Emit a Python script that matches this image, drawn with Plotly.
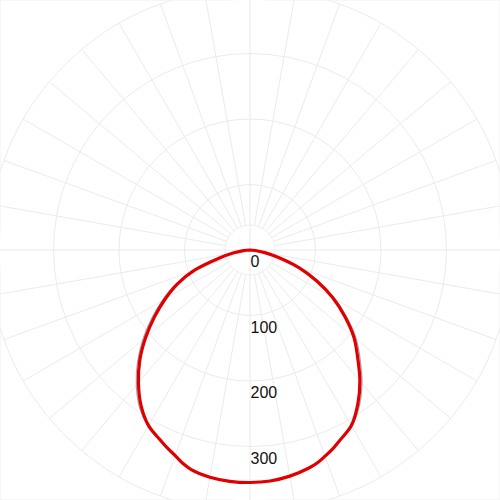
import numpy as np
import plotly.graph_objects as go

# Gamma angles (degrees from nadir) and intensities (cd/klm)
gamma = [0, 5, 10, 15, 17.5, 20, 22.5, 25, 30, 35, 40, 45, 50, 55, 60, 65, 70, 75, 80, 85, 90]

# red curve (thick): right half and left half
red_right = [355, 354, 350.6, 345, 341, 335, 329, 322, 309.5, 287, 261, 232.5, 207, 176.5, 146, 113, 80.7, 47, 23, 8, 0]
red_left = [355, 354.5, 352.3, 347, 341.5, 334, 328, 321.5, 309.7, 290, 265, 238, 208, 178, 149.6, 122, 90, 50, 25, 10, 0]

# grey curve (thin): right half and left half
grey_right = [355, 354, 350.6, 345, 340.5, 335, 328.5, 322, 311, 291, 266, 238, 212, 181.5, 150, 116, 82, 48, 23, 8, 0]
grey_left = [355, 354.5, 352.3, 347, 341, 335, 328.5, 322, 311, 294, 270, 243, 214, 184, 155, 127, 94, 52, 25, 10, 0]

radial_ticks = [0, 100, 200, 300]
radial_text = ["0", "100", "200", "300"]

R_MAX = 381.7          # value at the edge of the plotting circle
OUTER_RING = 400       # ring drawn partly outside the plotting circle
INNER_RING = 38        # small inner ring
GRID = "#ebebeb"

W = 500.0
px_per_unit = 250.0 / R_MAX
LABEL_SHIFT = 12.0 / px_per_unit   # labels sit a little below their ring


def full_curve(right, left):
    th = list(gamma) + [360 - g for g in reversed(gamma)]
    rr = list(right) + list(reversed(left))
    return th, rr


fig = go.Figure()

# inner white disc with its ring (grid layer)
circ_t = np.linspace(0, 360, 181)
fig.add_trace(go.Scatterpolar(
    r=[INNER_RING] * len(circ_t), theta=circ_t, mode="lines",
    fill="toself", fillcolor="white", line=dict(color=GRID, width=1),
    hoverinfo="skip", showlegend=False, subplot="polar"))
# cross through the centre
fig.add_trace(go.Scatterpolar(
    r=[INNER_RING, INNER_RING, None, INNER_RING, INNER_RING],
    theta=[0, 180, None, 90, 270], mode="lines",
    line=dict(color=GRID, width=1), hoverinfo="skip", showlegend=False, subplot="polar"))

# data curves (upper layer, carries the radial labels)
th, rr = full_curve(grey_right, grey_left)
fig.add_trace(go.Scatterpolar(r=rr, theta=th, mode="lines",
                              line=dict(color="#a8a0b0", width=1.2, shape="spline"),
                              showlegend=False, subplot="polar2"))
th, rr = full_curve(red_right, red_left)
fig.add_trace(go.Scatterpolar(r=rr, theta=th, mode="lines",
                              line=dict(color="#e00000", width=3.2, shape="spline"),
                              showlegend=False, subplot="polar2"))

# outer ring and the short ends of the spokes beyond the plotting circle
ring_px = OUTER_RING * px_per_unit
shapes = [dict(type="circle", xref="paper", yref="paper",
               x0=0.5 - ring_px / W, x1=0.5 + ring_px / W,
               y0=0.5 - ring_px / W, y1=0.5 + ring_px / W,
               line=dict(color=GRID, width=1), layer="below")]
for a in range(0, 360, 10):
    rad = np.deg2rad(a)
    shapes.append(dict(type="line", xref="paper", yref="paper",
                       x0=0.5 + 250 * np.cos(rad) / W, y0=0.5 + 250 * np.sin(rad) / W,
                       x1=0.5 + ring_px * np.cos(rad) / W, y1=0.5 + ring_px * np.sin(rad) / W,
                       line=dict(color=GRID, width=1), layer="below"))
shapes.append(dict(type="rect", xref="paper", yref="paper", x0=0, x1=1, y0=0, y1=1,
                   line=dict(color="#f0f0f0", width=1), layer="below"))

angular_common = dict(rotation=-90, direction="counterclockwise",
                      tickmode="linear", tick0=0, dtick=10,
                      showticklabels=False, ticks="", showline=False)

fig.update_layout(
    width=500, height=500,
    margin=dict(l=0, r=0, t=0, b=0),
    paper_bgcolor="white",
    showlegend=False,
    shapes=shapes,
    polar=dict(
        domain=dict(x=[0, 1], y=[0, 1]),
        bgcolor="white",
        angularaxis=dict(**angular_common, gridcolor=GRID, gridwidth=1),
        radialaxis=dict(range=[0, R_MAX], angle=270,
                        tickmode="array", tickvals=radial_ticks + [OUTER_RING],
                        showticklabels=False,
                        showline=False, ticks="", gridcolor=GRID, gridwidth=1),
    ),
    polar2=dict(
        domain=dict(x=[0, 1], y=[0, 1]),
        bgcolor="rgba(0,0,0,0)",
        angularaxis=dict(**angular_common, showgrid=False),
        radialaxis=dict(range=[0, R_MAX], angle=270, tickangle=-90, side="counterclockwise",
                        tickmode="array",
                        tickvals=[v + LABEL_SHIFT for v in radial_ticks],
                        ticktext=radial_text,
                        showgrid=False, showline=False, ticks="",
                        tickfont=dict(family="Liberation Sans, Arial", size=16, color="#111")),
    ),
)

fig.write_html("out.html", config={"displayModeBar": False},
               post_script="document.body.style.margin='0';")
